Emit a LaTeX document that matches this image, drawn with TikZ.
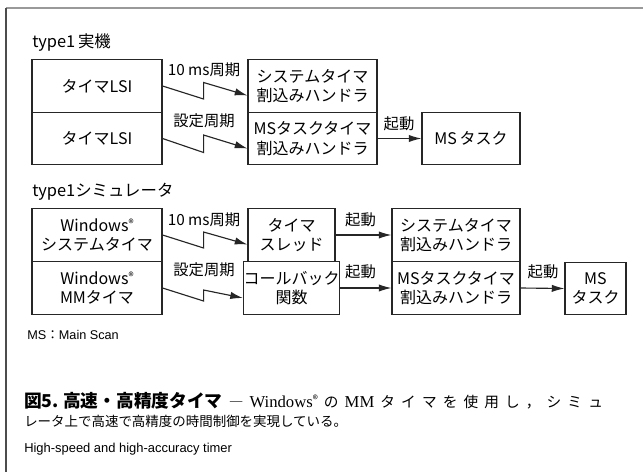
\documentclass[tikz,border=0pt]{standalone}
\usepackage{fontspec}
\setmainfont{Noto Sans CJK JP}
\newfontfamily\lsans{Liberation Sans}
\newfontfamily\lserif{Liberation Serif}
\usetikzlibrary{arrows.meta,calc}
\newcommand{\regm}{\raisebox{0.5ex}{\fontsize{8}{8}\selectfont ®}}
\begin{document}
\begin{tikzpicture}[x=0.75pt,y=-0.75pt,
 box/.style={draw=black!85,line width=0.85pt,minimum height=39.5pt,align=center,inner sep=0pt,font=\fontsize{12}{14.5}\selectfont},
 lbl/.style={font=\fontsize{11.5}{13}\selectfont,inner sep=0pt},
 ttl/.style={font=\fontsize{12.3}{13}\selectfont,inner sep=0pt,anchor=west},
 conn/.style={line width=0.85pt,draw=black!85,-{Latex[length=9.5pt,width=5.5pt]}},
]
\useasboundingbox (0,0) rectangle (643,472);
\fill[white] (0,0) rectangle (643,472);
\draw[black!40,line width=1.3pt] (6,8) -- (643,8);
\draw[black!70,line width=0.9pt] (6,8) -- (6,472);

% section 1
\node[ttl] (t1) at (32,43) {type1\,実機};
\node[box,minimum width=97.5pt] (A1) at (97,86) {タイマLSI};
\node[box,minimum width=97.5pt] (A2) at (97,138.5) {タイマLSI};
\node[box,minimum width=96.75pt] (B1) at (312.5,86) {システムタイマ\\割込みハンドラ};
\node[box,minimum width=96.75pt] (B2) at (312.5,138.5) {MSタスクタイマ\\割込みハンドラ};
\node[box,minimum width=73.5pt] (C) at (471,138.5) {MS\,タスク};

\draw[conn] (A1.east) -- ++(41,13) -- ++(0,-16.5) -- ($(B1.west)+(0,9.5)$);
\draw[conn] (A2.east) -- ++(41,14) -- ++(0,-17.5) -- ($(B2.west)+(0,10)$);
\draw[conn] (B2.east) -- (C.west);

\node[lbl] (l1) at (204,70) {10 ms周期};
\node[lbl] (l2) at (204,121) {設定周期};
\node[lbl] (l3) at (399,124) {起動};

% section 2
\node[ttl] (t2) at (32,192) {type1シミュレータ};
\node[box,minimum width=97.5pt] (D1) at (97,235) {Windows\regm\\システムタイマ};
\node[box,minimum width=97.5pt] (D2) at (97,288) {Windows\regm\\MMタイマ};
\node[box,minimum width=65.25pt] (E1) at (291.5,235) {タイマ\\スレッド};
\node[box,minimum width=65.25pt] (E2) at (291.5,288) {コールバック\\関数};
\node[box,minimum width=96pt] (F1) at (456,235) {システムタイマ\\割込みハンドラ};
\node[box,minimum width=96pt] (F2) at (456,288) {MSタスクタイマ\\割込みハンドラ};
\node[box,minimum width=45.75pt] (G) at (595.5,288.5) {MS\\タスク};

\draw[conn] (D1.east) -- ++(41,13) -- ++(0,-16) -- ($(E1.west)+(0,9.5)$);
\draw[conn] (D2.east) -- ++(41,13) -- ++(0,-11) -- ($(E2.west)+(0,10)$);
\draw[conn] (E1.east) -- (F1.west);
\draw[conn] (E2.east) -- (F2.west);
\draw[conn] (F2.east) -- (G.west);

\node[lbl] (l4) at (204,220) {10 ms周期};
\node[lbl] (l5) at (204,270) {設定周期};
\node[lbl] (l6) at (360.5,220) {起動};
\node[lbl] (l7) at (360.5,272) {起動};
\node[lbl] (l8) at (543,272) {起動};

% notes and caption
\node[anchor=west,inner sep=0pt,font=\fontsize{9.5}{10}\selectfont] (ms) at (27,335) {{\lsans MS}：{\lsans Main Scan}};
\node[anchor=base west,inner sep=0pt,font=\fontsize{11}{12}\selectfont] (cap1) at (24,407)
 {\makebox[434pt][l]{{\fontsize{13.3}{14}\selectfont\bfseries 図5.\ 高速・高精度タイマ}\hfill ―\hfill {\lserif\fontsize{12.5}{13}\selectfont Windows}\regm\hfill の\hfill {\lserif\fontsize{12.5}{13}\selectfont MM}\hfill タ\hfill イ\hfill マ\hfill を\hfill 使\hfill 用\hfill し\hfill ，\hfill シ\hfill ミ\hfill ュ}};
\node[anchor=base west,inner sep=0pt,font=\fontsize{10.1}{12}\selectfont] (cap2) at (24,426) {レータ上で高速で高精度の時間制御を実現している。};
\node[anchor=base west,inner sep=0pt,font=\lsans\fontsize{9.7}{12}\selectfont] (cap3) at (24,452) {High-speed and high-accuracy timer};
\end{tikzpicture}
\end{document}
